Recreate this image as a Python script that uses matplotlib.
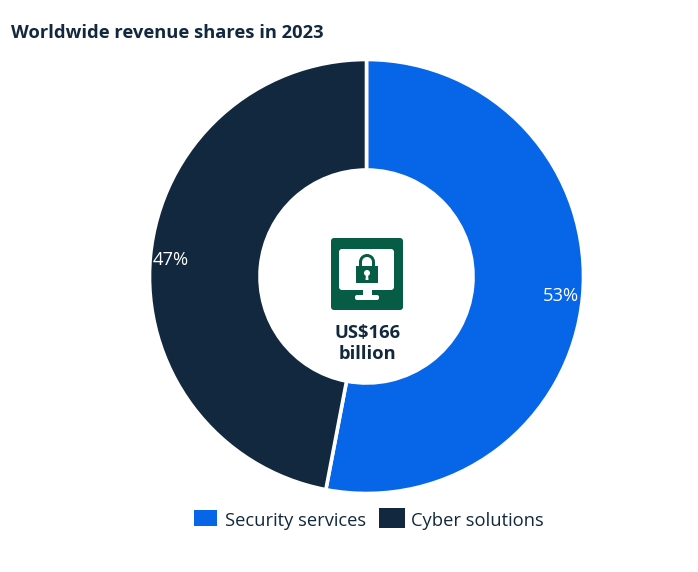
import matplotlib

matplotlib.use("Agg")
import matplotlib.pyplot as plt
from matplotlib.patches import FancyBboxPatch, Rectangle, Circle, Wedge, Polygon

categories = ["Security services", "Cyber solutions"]
shares = [53, 47]
share_labels = ["53%", "47%"]
title = "Worldwide revenue shares in 2023"
center_text = "US$166\nbillion"

BLUE = "#0766e8"
NAVY = "#12283f"
GREEN = "#075c45"
W, H = 698, 572

plt.rcParams["font.family"] = ["Open Sans", "DejaVu Sans"]

fig = plt.figure(figsize=(W / 100, H / 100), dpi=100)

# 饼图单独一个坐标轴，半径 1 对应 217 像素
cx, cy, r = 366.5, 276.5, 217
pie_ax = fig.add_axes([(cx - r) / W, 1 - (cy + r) / H, 2 * r / W, 2 * r / H])
pie_ax.pie(
    shares,
    colors=[BLUE, NAVY],
    startangle=90,
    counterclock=False,
    radius=1.0,
    wedgeprops={"width": 110.5 / 217, "edgecolor": "white", "linewidth": 2.6},
)
pie_ax.set_xlim(-1, 1)
pie_ax.set_ylim(-1, 1)
pie_ax.set_aspect("equal")
pie_ax.axis("off")

# 其余元素用像素坐标
ax = fig.add_axes([0, 0, 1, 1])
ax.set_xlim(0, W)
ax.set_ylim(H, 0)
ax.axis("off")
ax.patch.set_alpha(0)

ax.text(11, 33.5, title, fontsize=13.2, fontweight="bold", color=NAVY, va="center", ha="left")

ax.text(560.5, 296, share_labels[0], fontsize=13.2, color="white", ha="center", va="center")
ax.text(170.5, 260, share_labels[1], fontsize=13.2, color="white", ha="center", va="center")

# 中心图标：显示器加锁
ax.add_patch(FancyBboxPatch((331, 238), 72, 72, boxstyle="round,pad=0,rounding_size=3", fc=GREEN, ec="none"))
ax.add_patch(FancyBboxPatch((339, 249), 55, 41, boxstyle="round,pad=0,rounding_size=3", fc="white", ec="none"))
ax.add_patch(Rectangle((363, 289), 9, 7, fc="white", ec="none"))
ax.add_patch(FancyBboxPatch((355, 295), 24, 5, boxstyle="round,pad=0,rounding_size=2", fc="white", ec="none"))
ax.add_patch(Wedge((367, 262), 8, 180, 360, width=3, fc=GREEN, ec="none"))
ax.add_patch(Rectangle((359, 262), 3, 5, fc=GREEN, ec="none"))
ax.add_patch(Rectangle((372, 262), 3, 5, fc=GREEN, ec="none"))
ax.add_patch(Rectangle((356, 266), 22, 17, fc=GREEN, ec="none"))
ax.add_patch(Circle((367, 273), 3, fc="white", ec="none"))
ax.add_patch(Polygon([(366, 274), (368, 274), (368.5, 280), (365.5, 280)], fc="white", ec="none"))

ax.text(367.5, 343.5, center_text, fontsize=13.2, fontweight="bold", color=NAVY, ha="center", va="center", linespacing=1.2)

# 图例
ax.add_patch(Rectangle((194, 510), 23, 16, fc=BLUE, ec="none"))
ax.text(225, 520.5, categories[0], fontsize=13.2, color=NAVY, ha="left", va="center")
ax.add_patch(Rectangle((379, 508), 26, 20, fc=NAVY, ec="none"))
ax.text(411, 520.5, categories[1], fontsize=13.2, color=NAVY, ha="left", va="center")

fig.savefig("out.png", dpi=100)
plt.close(fig)
